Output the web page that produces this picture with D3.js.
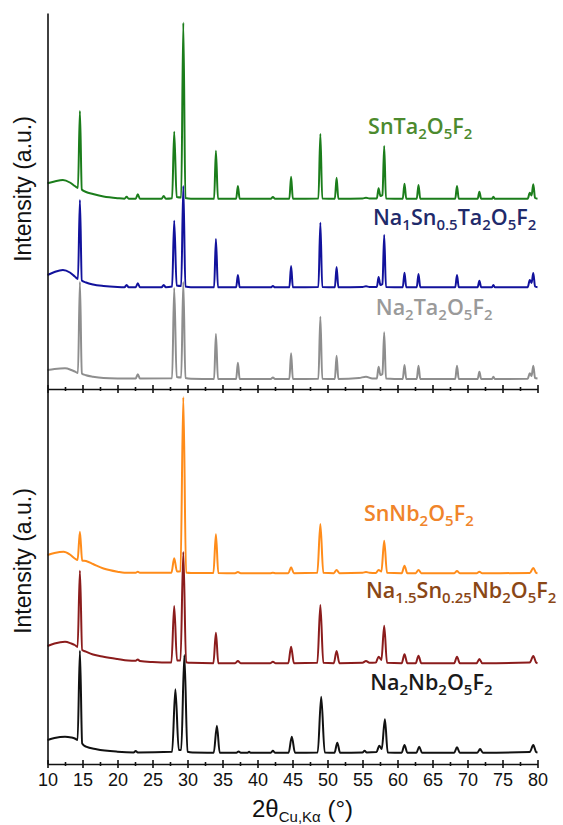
<!DOCTYPE html>
<html>
<head>
    <title>XRD patterns</title>
    <script src="https://d3js.org/d3.v7.min.js"></script>
    <style>
        body { margin: 0; background: #fff; }
        .axis path, .axis line { stroke: #111; stroke-width: 1.6px; }
        .axis text { font-family: "Liberation Sans", Arial, sans-serif; font-size: 18px; fill: #111; }
        .phase { font-family: "Open Sans", sans-serif; font-weight: 600; font-size: 21.5px; }
        .title { font-family: "Liberation Sans", Arial, sans-serif; fill: #111; }
    </style>
</head>
<body>
<div id="chart"></div>
<script>
// 2θ axis ticks
const majorTicks = [10, 15, 20, 25, 30, 35, 40, 45, 50, 55, 60, 65, 70, 75, 80];
const minorTicks = [12.5, 17.5, 22.5, 27.5, 32.5, 37.5, 42.5, 47.5, 52.5, 57.5, 62.5, 67.5, 72.5, 77.5];

// patterns, [2θ, intensity a.u. incl. stacking offset]
// tantalates (top panel)
const snTa = [[10,205.7],[11,207.5],[12.2,209],[13.2,206.5],[13.9,203],[14.35,201],[14.63,278],[14.9,199.5],[15.5,197],[16.5,195],[18,192.5],[20,190.8],[21,190.3],[21.3,192.3],[21.6,190.2],[22.6,190.2],[22.9,194.7],[23.2,190.2],[26.3,190.2],[26.6,193],[26.9,190.3],[27.8,190.8],[28.1,257.3],[28.45,192],[29.1,191.5],[29.4,366.3],[29.7,191],[30.5,190.3],[33.8,190.2],[34.06,238.3],[34.35,190.3],[36.95,190.2],[37.2,203],[37.45,190.2],[41.9,190.2],[42.2,192],[42.5,190.2],[44.55,190.2],[44.8,212.3],[45.05,190.2],[48.7,190.5],[48.98,255],[49.25,190.5],[51.05,190.2],[51.3,211.3],[51.55,190.2],[55,190.5],[55.5,191.2],[56,190.5],[57.05,190.6],[57.3,200.7],[57.55,193],[57.85,194],[58.1,243],[58.35,190.6],[60.75,190.2],[61.0,205.3],[61.25,190.2],[62.75,190.2],[63.0,204],[63.25,190.2],[68.25,190.2],[68.5,203],[68.75,190.2],[71.45,190.2],[71.7,197.3],[71.95,190.2],[73.5,190.2],[73.7,192.3],[73.9,190.2],[78.6,190.3],[78.9,196.3],[79.15,193.5],[79.4,204.7],[79.65,191],[80,190.3]];
const naSnTa = [[10,114],[11,117],[12.2,119],[13.2,116.5],[13.9,112.5],[14.35,110],[14.63,189],[14.9,108.5],[15.5,106.5],[16.5,104.5],[18,103],[20,102],[21,101.8],[21.3,104],[21.6,101.8],[22.6,101.8],[22.9,105.7],[23.2,101.8],[26.3,101.8],[26.6,104],[26.9,101.8],[27.8,102.5],[28.1,168.3],[28.45,103.5],[29.1,103],[29.4,203],[29.7,102.5],[30.5,101.8],[33.8,101.7],[34.06,150],[34.35,101.7],[36.95,101.7],[37.2,114],[37.45,101.7],[41.9,101.7],[42.2,103],[42.5,101.7],[44.55,101.7],[44.8,123],[45.05,101.7],[48.7,102],[48.98,166.3],[49.25,102],[51.05,101.7],[51.3,122],[51.55,101.7],[55,102],[55.5,102.7],[56,102],[57.05,102],[57.3,112],[57.55,104],[57.85,105],[58.1,154],[58.35,102],[60.75,101.7],[61.0,116.3],[61.25,101.7],[62.75,101.7],[63.0,115],[63.25,101.7],[68.25,101.7],[68.5,114],[68.75,101.7],[71.45,101.7],[71.7,108.3],[71.95,101.7],[73.5,101.7],[73.7,104],[73.9,101.7],[78.6,101.8],[78.9,109],[79.15,106],[79.4,116],[79.65,102.5],[80,101.8]];
const naTa = [[10,19],[11,20],[12.5,20.7],[13.4,19],[13.95,17.3],[14.35,16],[14.63,107],[14.9,15.5],[15.5,13.8],[16.5,12.3],[18,11],[20,10.6],[22.6,10.5],[22.9,14.7],[23.2,10.5],[27.8,10.8],[28.1,101],[28.45,12],[29.1,11.5],[29.4,107],[29.7,11],[30.5,10.3],[33.8,10],[34.06,55],[34.35,10],[36.95,10],[37.2,26.3],[37.45,10],[41.9,10],[42.2,11.5],[42.5,10],[44.55,10],[44.8,35.7],[45.05,10],[48.7,10.3],[48.98,72.3],[49.25,10.3],[51.05,10],[51.3,33.3],[51.55,10],[54.5,11],[55.5,12.3],[56.4,10.5],[57.05,10.5],[57.3,22.3],[57.55,14],[57.85,15],[58.1,56.7],[58.35,10.5],[60.75,10],[61.0,24],[61.25,10],[62.75,10],[63.0,23.3],[63.25,10],[68.25,10],[68.5,23.3],[68.75,10],[71.45,10],[71.7,17.3],[71.95,10],[73.5,10],[73.7,12.3],[73.9,10],[78.6,10.3],[78.9,15.7],[79.15,13],[79.4,23.3],[79.65,11],[80,10.5]];
// niobates (bottom panel)
const snNb = [[10,209],[11,211],[12.3,212.3],[13.2,209.5],[13.9,205.5],[14.3,204],[14.63,232.3],[14.95,203.5],[15.5,203],[16.5,200],[18,195.5],[20,192.3],[21,191.3],[22.6,191.3],[22.9,192.3],[23.2,191.2],[27.7,191.2],[28.1,205.7],[28.5,192.5],[29.0,192.8],[29.4,366.7],[29.8,191.5],[30.5,191],[33.7,191],[34.06,229.7],[34.4,191],[36.8,190.8],[37.2,192],[37.6,190.8],[41.8,190.8],[42.2,191.3],[42.6,190.8],[44.4,190.8],[44.8,196.7],[45.2,190.8],[48.55,191.2],[48.98,240],[49.4,191.2],[50.9,190.8],[51.3,194],[51.7,190.8],[55,191.2],[55.5,192],[56,191.2],[56.9,191],[57.3,194],[57.7,192.5],[58.1,223.3],[58.5,191.2],[60.6,190.8],[61.0,198.3],[61.4,190.8],[62.6,190.8],[63.0,194],[63.4,190.8],[68.1,190.8],[68.5,193],[68.9,190.8],[71.3,190.8],[71.7,192.3],[72.1,190.8],[78.9,191],[79.4,196],[79.8,191.2],[80,190.8]];
const naSnNb = [[10,118],[11,120.5],[12.5,122.3],[13.4,120.5],[13.9,119],[14.3,117],[14.63,193.3],[14.95,114],[15.5,112.3],[16.5,109.5],[18,107.3],[20,105],[21.5,103.5],[22.6,103.3],[22.9,104.5],[23.2,103],[25,102],[27.7,101.5],[28.1,158],[28.5,103.5],[29.0,103.5],[29.4,212],[29.8,101.8],[30.5,101.2],[33.7,100.8],[34.06,131.3],[34.4,100.8],[36.8,100.8],[37.2,103],[37.6,100.8],[41.8,100.8],[42.2,102.3],[42.6,100.8],[44.4,100.8],[44.8,117.3],[45.2,100.8],[48.55,101.2],[48.98,159],[49.4,101.2],[50.9,100.8],[51.3,113],[51.7,100.8],[55,101.2],[55.5,103],[56,101.2],[56.9,101.5],[57.3,107.3],[57.7,104],[58.1,138.3],[58.5,101.2],[60.6,100.8],[61.0,109.7],[61.4,100.8],[62.6,100.8],[63.0,108.3],[63.4,100.8],[68.1,100.8],[68.5,107.3],[68.9,100.8],[71.3,100.8],[71.7,105],[72.1,100.8],[78.9,101.5],[79.4,108],[79.8,101.5],[80,100.8]];
const naNb = [[10,24],[11,26],[12.5,27.3],[13.4,26.5],[13.9,25.5],[14.3,24],[14.63,113.3],[14.95,20.5],[15.5,17.3],[17,14.7],[20,12.3],[22.3,11.6],[22.6,13],[22.9,11.6],[27.8,12.2],[28.27,74.7],[28.75,14],[29.1,14],[29.55,109],[30.0,12.2],[30.7,11.5],[33.75,11.3],[34.2,38.3],[34.6,11.3],[37.0,11.3],[37.3,12.5],[37.6,11.3],[38.6,11.3],[38.8,12.3],[39.0,11.3],[41.9,11.3],[42.2,13.3],[42.5,11.3],[44.45,11.3],[44.9,27.3],[45.35,11.3],[48.6,11.6],[49.1,67.3],[49.6,11.6],[51.0,11.3],[51.4,21.3],[51.8,11.3],[55.0,11.6],[55.3,13.3],[55.6,11.6],[57.0,12],[57.4,18.3],[57.75,15],[58.2,44.7],[58.6,11.6],[60.6,11.3],[61.0,19],[61.4,11.3],[62.7,11.3],[63.1,17.3],[63.5,11.3],[68.1,11.3],[68.5,16.7],[68.9,11.3],[71.4,11.3],[71.8,15],[72.2,11.3],[78.9,12],[79.4,19],[79.8,12],[80,11.5]];

// phase names ({} = subscript), colours
const namesTa = ["SnTa{2}O{5}F{2}", "Na{1}Sn{0.5}Ta{2}O{5}F{2}", "Na{2}Ta{2}O{5}F{2}"];
const namesNb = ["SnNb{2}O{5}F{2}", "Na{1.5}Sn{0.25}Nb{2}O{5}F{2}", "Na{2}Nb{2}O{5}F{2}"];
const lineColors = { ta: ["#1b7d1b", "#12129c", "#8e8e8e"], nb: ["#ff8c1a", "#8b1c1c", "#111111"] };
const labelColors = { ta: ["#4c8a2e", "#1f2a6b", "#9a9a9a"], nb: ["#f0842a", "#8a4716", "#1a1a1a"] };
// label anchor (2θ of left edge, intensity of baseline)
const labelAt = { ta: [[55.8, 255], [56.5, 164], [56.9, 74]], nb: [[55.2, 243], [55.5, 166], [56.1, 74]] };

const width = 563, height = 825;
const left = 47.5, right = 537.5;
const panels = [
    { key: "ta", top: 13, bottom: 389, series: [snTa, naSnTa, naTa], names: namesTa, labelY: 189 },
    { key: "nb", top: 389, bottom: 764, series: [snNb, naSnNb, naNb], names: namesNb, labelY: 561 }
];

const svg = d3.select("#chart").append("svg")
    .attr("width", width)
    .attr("height", height);

const x = d3.scaleLinear().domain([10, 80]).range([left, right]);

panels.forEach((p, pi) => {
    const y = d3.scaleLinear().domain([0, p.bottom - p.top]).range([p.bottom, p.top]);
    const line = d3.line()
        .x(d => x(d[0]))
        .y(d => y(d[1]))
        .curve(d3.curveMonotoneX);

    // upper traces first so the lower ones sit on top
    p.series.forEach((s, i) => {
        svg.append("path")
            .datum(s)
            .attr("d", line)
            .attr("fill", "none")
            .attr("stroke", lineColors[p.key][i])
            .attr("stroke-width", 2)
            .attr("stroke-linejoin", "round");
    });

    // phase labels with subscripts
    p.names.forEach((name, i) => {
        const [lx, ly] = labelAt[p.key][i];
        const t = svg.append("text")
            .attr("class", "phase")
            .attr("x", x(lx))
            .attr("y", y(ly))
            .attr("fill", labelColors[p.key][i]);
        let down = false;
        name.split(/(\{[^}]*\})/).filter(s => s.length).forEach(part => {
            if (part[0] === "{") {
                t.append("tspan").attr("dy", 5).attr("font-size", "15px").text(part.slice(1, -1));
                down = true;
            } else {
                t.append("tspan").attr("dy", down ? -5 : 0).text(part);
                down = false;
            }
        });
    });

    // left spine
    svg.append("g")
        .attr("class", "axis")
        .attr("transform", `translate(${left},0)`)
        .call(d3.axisLeft(y).tickValues([]).tickSizeOuter(0));

    // bottom axis, ticks cross the line
    const isLast = pi === panels.length - 1;
    const gx = svg.append("g")
        .attr("class", "axis")
        .attr("transform", `translate(0,${p.bottom})`)
        .call(d3.axisBottom(x).tickValues(majorTicks).tickSizeOuter(0).tickFormat(d3.format("d")));
    gx.selectAll(".tick line").attr("y1", -4).attr("y2", 4);
    if (isLast) gx.selectAll(".tick text").attr("y", 9);
    else gx.selectAll(".tick text").remove();
    const gm = svg.append("g")
        .attr("class", "axis")
        .attr("transform", `translate(0,${p.bottom})`)
        .call(d3.axisBottom(x).tickValues(minorTicks));
    gm.select(".domain").remove();
    gm.selectAll(".tick text").remove();
    gm.selectAll(".tick line").attr("y1", -2).attr("y2", 2);

    // y title
    svg.append("text")
        .attr("class", "title")
        .attr("transform", `translate(31,${p.labelY}) rotate(-90)`)
        .attr("text-anchor", "middle")
        .attr("font-size", 23)
        .text("Intensity (a.u.)");
});

// x title
const xt = svg.append("text")
    .attr("class", "title")
    .attr("x", (left + right) / 2 + 10)
    .attr("y", 817)
    .attr("text-anchor", "middle")
    .attr("font-size", 24);
xt.append("tspan").text("2\u03b8");
xt.append("tspan").attr("dy", 5).attr("font-size", 15).text("Cu,K\u03b1");
xt.append("tspan").attr("dy", -5).text(" (\u00b0)");
</script>
</body>
</html>
